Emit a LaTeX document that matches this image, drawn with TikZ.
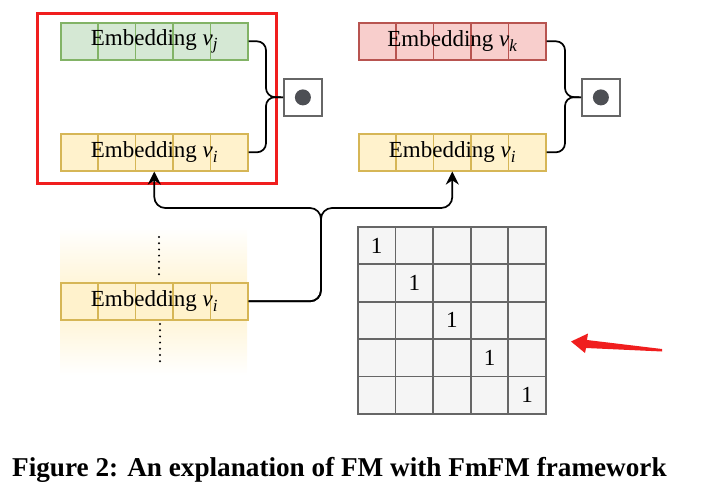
\documentclass[tikz,border=0pt]{standalone}
\usepackage{fontspec}
\setmainfont{Liberation Serif}
\usetikzlibrary{calc,arrows.meta}
\definecolor{gfill}{HTML}{D5E8D4}\definecolor{gdraw}{HTML}{82B366}
\definecolor{yfill}{HTML}{FFF2CC}\definecolor{ydraw}{HTML}{D6B656}
\definecolor{rfill}{HTML}{F8CECC}\definecolor{rdraw}{HTML}{B85450}
\definecolor{mfill}{HTML}{F5F5F5}\definecolor{mdraw}{HTML}{666666}
\definecolor{dotc}{HTML}{4D4F54}\definecolor{frame}{HTML}{F01E1E}
\newcommand{\vv}[1]{\textit{v}\raisebox{-0.4ex}{\fontsize{17}{18}\selectfont\textit{#1}}}
\tikzset{
  lbl/.style={font=\fontsize{23}{25}\selectfont},
  embed/.style 2 args={lbl, draw=#2, fill=#1, line width=1.6pt, minimum width=187pt, minimum height=37pt,
    inner sep=0pt, anchor=north west,
    path picture={\foreach \k in {1,...,4}{\draw[#2, line width=1.6pt]
      ($(path picture bounding box.south west)!\k/5!(path picture bounding box.south east)$) --
      ($(path picture bounding box.north west)!\k/5!(path picture bounding box.north east)$);}}},
  conn/.style={draw=black, line width=1.7pt},
  arr/.style={conn, -{Stealth[length=13pt,width=13pt]}},
  dotbox/.style={draw=mdraw, fill=white, line width=1.8pt, minimum width=38pt, minimum height=37pt, inner sep=0pt, anchor=north west},
  dotfill/.style={circle, fill=dotc, minimum size=16pt, inner sep=0pt},
  cell/.style={lbl, draw=mdraw, fill=mfill, line width=1.8pt, minimum width=37.6pt, minimum height=37.4pt, inner sep=0pt, anchor=north west},
  dotline/.style={line width=2.2pt, dash pattern=on 0pt off 6.2pt, line cap=round},
}
\begin{document}
\begin{tikzpicture}[x=1pt,y=-1pt]
\useasboundingbox (0,0) rectangle (707,492);
% gradient backdrop
\shade[top color=white, bottom color=white, middle color=yfill] (60,227) rectangle (247,375);
% embeddings
\node[embed={gfill}{gdraw}] (g1) at (60,22) {Embedding \vv{j}};
\node[embed={yfill}{ydraw}] (y1) at (60,133) {Embedding \vv{i}};
\node[embed={rfill}{rdraw}] (r2) at (358,22) {Embedding \vv{k}};
\node[embed={yfill}{ydraw}] (y2) at (358,133) {Embedding \vv{i}};
\node[embed={yfill}{ydraw}] (y3) at (60,282) {Embedding \vv{i}};
% dotted lines
\coordinate (d1a) at (159,237); \coordinate (d1b) at (159,275);
\coordinate (d2a) at (160,324); \coordinate (d2b) at (160,362);
\draw[dotline] (d1a) -- (d1b);
\draw[dotline] (d2a) -- (d2b);
% red frame
\node[draw=frame, line width=2.6pt, minimum width=239pt, minimum height=170pt, anchor=north west, inner sep=0pt] (fr) at (36,12) {};
% dot product boxes
\node[dotbox] (p1) at (283,78) {};
\node[dotfill] (p1c) at (p1.center) {};
\node[dotbox] (p2) at (581,78) {};
\node[dotfill] (p2c) at (p2.center) {};
% braces
\coordinate (b1) at (266,97);
\coordinate (b2) at (565,97);
\draw[conn, rounded corners=9pt] (g1.east) -| (b1) -- (p1.west);
\draw[conn, rounded corners=9pt] (y1.east) -| (b1) -- (p1.west);
\draw[conn, rounded corners=9pt] (r2.east) -| (b2) -- (p2.west);
\draw[conn, rounded corners=9pt] (y2.east) -| (b2) -- (p2.west);
% lookup connector
\coordinate (sp) at (321,208);
\draw[arr, rounded corners=11pt] (y3.east) -| (sp) -| (y1.south);
\draw[arr, rounded corners=11pt] (y3.east) -| (sp) -| (y2.south);
% identity matrix
\foreach \r in {0,...,4}{\foreach \c in {0,...,4}{
  \node[cell] (m\r\c) at ({357+37.6*\c},{226+37.4*\r}) {\ifnum\r=\c\raisebox{-3pt}{1}\fi};}}
% red arrow
\fill[frame] (571,341.5) -- (588,333.5) -- (587,340) -- (662,349) -- (662,351.5) -- (586,348) -- (585,353) -- cycle;
% caption
\node[anchor=base west, inner sep=0pt, font=\fontsize{27.2}{30}\selectfont\bfseries] (cap) at (12,476) {Figure 2: An explanation of FM with FmFM framework};
\end{tikzpicture}
\end{document}
